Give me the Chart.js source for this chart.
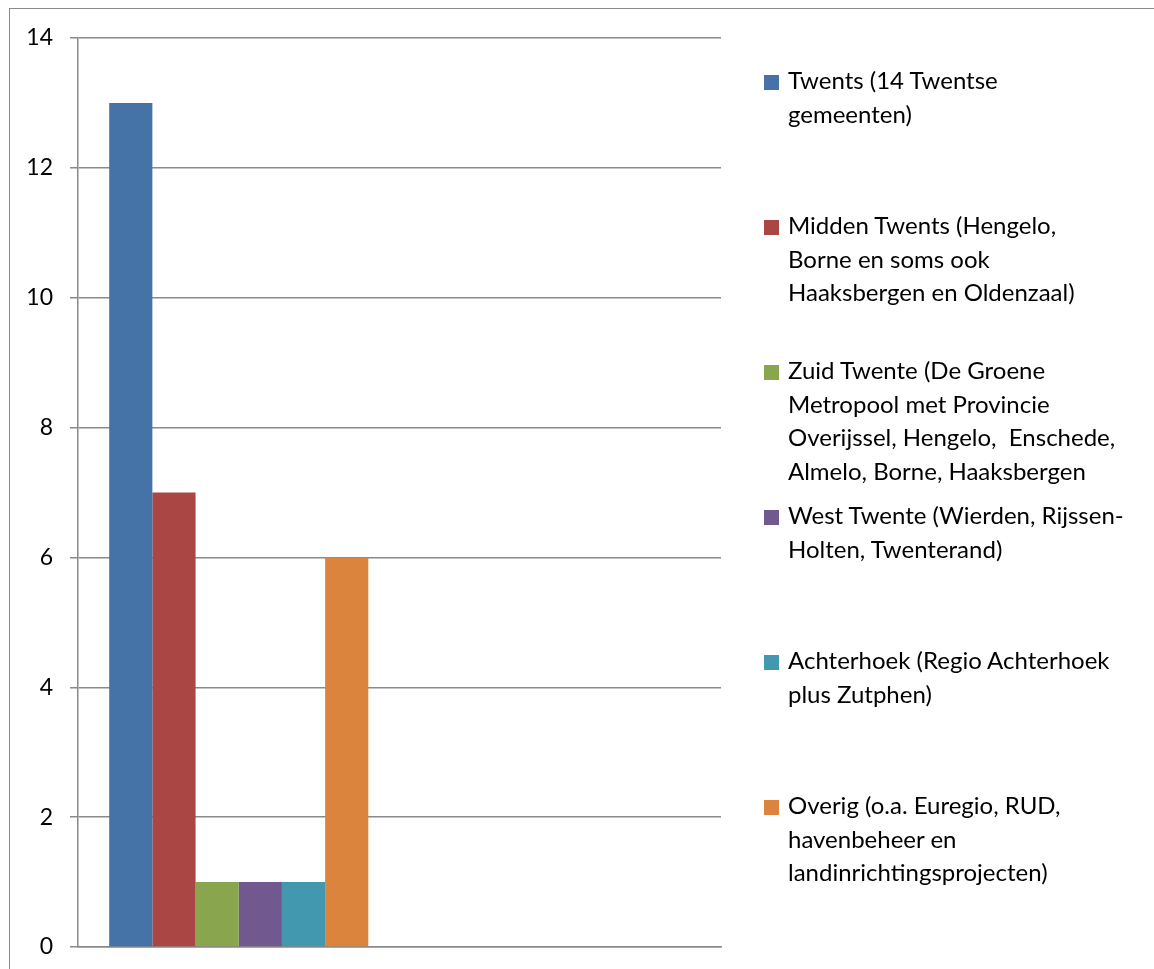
<!DOCTYPE html>
<html lang="nl">
<head>
    <meta charset="UTF-8">
    <title>Samenwerkingsverbanden</title>
    <script src="https://cdn.jsdelivr.net/npm/chart.js"></script>
    <style>
        html, body {
            margin: 0;
            padding: 0;
            width: 1154px;
            height: 969px;
            overflow: hidden;
            background: #fff;
            font-family: Lato, "Open Sans", sans-serif;
        }
        .frame {
            position: absolute;
            left: 9px;
            top: 8px;
            width: 1200px;
            height: 1000px;
            border-left: 1.5px solid #8a8a8a;
            border-top: 1.5px solid #8a8a8a;
        }
        #wrap {
            position: absolute;
            left: 0;
            top: 0;
            width: 1154px;
            height: 969px;
        }
        #legend {
            position: absolute;
            left: 764px;
            top: 63px;
        }
        .item {
            position: relative;
            height: 145px;
            padding-left: 24px;
            font-size: 24px;
            line-height: 33.5px;
            color: #000;
            white-space: pre;
        }
        .box {
            position: absolute;
            left: 0;
            top: 12px;
            width: 15px;
            height: 15px;
        }
    </style>
</head>
<body>
    <div class="frame"></div>
    <div id="wrap"><canvas id="barChart"></canvas></div>
    <div id="legend"></div>
    <script>
        // twee categorieen, de tweede is leeg (zoals in het origineel)
        const categories = ['', ''];

        const seriesLabels = [
            ['Twents (14 Twentse', 'gemeenten)'],
            ['Midden Twents (Hengelo,', 'Borne en soms ook', 'Haaksbergen en Oldenzaal)'],
            ['Zuid Twente (De Groene', 'Metropool met Provincie', 'Overijssel, Hengelo,  Enschede,', 'Almelo, Borne, Haaksbergen'],
            ['West Twente (Wierden, Rijssen-', 'Holten, Twenterand)'],
            ['Achterhoek (Regio Achterhoek', 'plus Zutphen)'],
            ['Overig (o.a. Euregio, RUD,', 'havenbeheer en', 'landinrichtingsprojecten)']
        ];

        const seriesValues = [13, 7, 1, 1, 1, 6];

        const seriesColors = ['#4572A7', '#AA4643', '#89A54E', '#71588F', '#4198AF', '#DB843D'];

        const yTicks = { min: 0, max: 14, step: 2 };

        const datasets = seriesValues.map((v, i) => ({
            label: seriesLabels[i].join(' '),
            data: [v],
            backgroundColor: seriesColors[i],
            borderWidth: 0,
            barPercentage: 1.0,
            categoryPercentage: 0.806
        }));

        const ctx = document.getElementById('barChart').getContext('2d');
        const chart = new Chart(ctx, {
            type: 'bar',
            data: { labels: categories, datasets: datasets },
            options: {
                responsive: true,
                maintainAspectRatio: false,
                animation: false,
                layout: {
                    padding: { left: 0, top: 38, right: 433, bottom: 22 }
                },
                plugins: {
                    legend: { display: false },
                    tooltip: { enabled: false }
                },
                scales: {
                    x: {
                        grid: { display: false, drawTicks: false },
                        ticks: { display: false },
                        border: { display: true, color: '#8a8a8a', width: 1.5 },
                        afterFit: s => { s.height = 0; }
                    },
                    y: {
                        min: yTicks.min,
                        max: yTicks.max,
                        ticks: {
                            stepSize: yTicks.step,
                            padding: 17,
                            color: '#000',
                            font: { family: 'Lato', size: 23 }
                        },
                        grid: {
                            color: '#8a8a8a',
                            lineWidth: 1.5,
                            tickLength: 8,
                            drawTicks: true
                        },
                        border: { display: true, color: '#8a8a8a', width: 1.5 },
                        // vaste breedte; tick-padding niet meetellen boven/onder
                        afterFit: s => {
                            s.width = 78;
                            s.paddingTop = 14;
                            s.paddingBottom = 14;
                        }
                    }
                }
            }
        });

        // legenda als gewone tekst rechts naast de grafiek
        const legend = document.getElementById('legend');
        chart.data.datasets.forEach((ds, i) => {
            const item = document.createElement('div');
            item.className = 'item';
            const box = document.createElement('span');
            box.className = 'box';
            box.style.background = ds.backgroundColor;
            item.appendChild(box);
            item.appendChild(document.createTextNode(seriesLabels[i].join('\n')));
            legend.appendChild(item);
        });
    </script>
</body>
</html>
